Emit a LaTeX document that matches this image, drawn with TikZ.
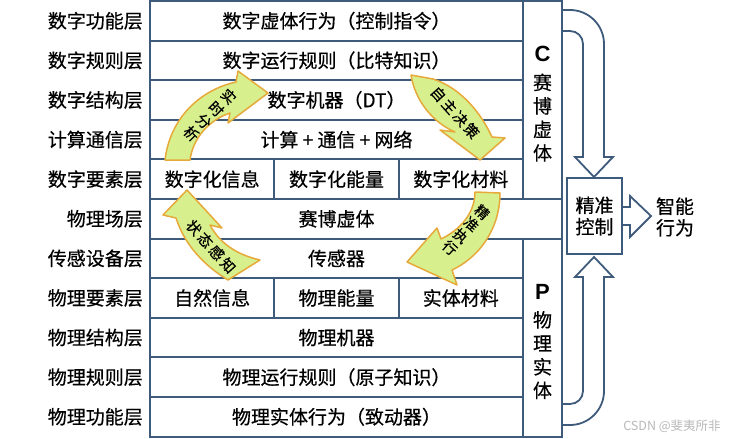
\documentclass[tikz,border=0pt]{standalone}
\usepackage{fontspec}
\setmainfont{Noto Sans CJK SC}[FakeBold=0.5]
\newfontfamily\wmfont{Noto Sans CJK SC}
\newfontfamily\latfont{Liberation Sans}
\definecolor{boxline}{HTML}{3F5B7C}
\definecolor{arrfill}{HTML}{D8EF8E}
\definecolor{arrdraw}{HTML}{E6A93A}
\begin{document}
\begin{tikzpicture}[x=1pt,y=-1pt,
  txt/.style={inner sep=0pt, font=\fontsize{19}{22}\selectfont},
  cell/.style={txt, draw=boxline, line width=2pt, minimum width=373pt, minimum height=39.6pt},
  ecell/.style={cell, minimum width=124.3pt},
  colbox/.style={draw=boxline, line width=2pt, minimum width=39pt, minimum height=198pt, inner sep=0pt},
  lab/.style={txt, anchor=east},
  coltxt/.style={txt, align=center, font=\fontsize{19}{23.5}\selectfont},
  uturn/.style={draw=boxline, line width=1.8pt, line join=miter},
  bigarrow/.style={fill=arrfill, draw=arrdraw, line width=1.5pt, line join=round},
  vtxt/.style={inner sep=0pt, align=center, font=\fontsize{14.5}{17.5}\selectfont},
  htxt/.style={inner sep=0pt, font=\fontsize{14.5}{15}\selectfont}
]
\useasboundingbox (0,0) rectangle (732,439);

% left labels
\node[lab] (l1) at (143,20.8) {数字功能层};
\node[lab] (l2) at (143,60.4) {数字规则层};
\node[lab] (l3) at (143,100.0) {数字结构层};
\node[lab] (l4) at (143,139.6) {计算通信层};
\node[lab] (l5) at (143,179.2) {数字要素层};
\node[lab] (l6) at (143,218.8) {物理场层};
\node[lab] (l7) at (143,258.4) {传感设备层};
\node[lab] (l8) at (143,298.0) {物理要素层};
\node[lab] (l9) at (143,337.6) {物理结构层};
\node[lab] (l10) at (143,377.2) {物理规则层};
\node[lab] (l11) at (143,416.8) {物理功能层};

% cells
\node[cell] (r1) at (336.5,20.8) {数字虚体行为（控制指令）};
\node[cell] (r2) at (336.5,60.4) {数字运行规则（比特知识）};
\node[cell] (r3) at (336.5,100.0) {数字机器（DT）};
\node[cell] (r4) at (336.5,139.6) {计算 + 通信 + 网络};
\node[ecell] (r5a) at (212.2,179.2) {数字化信息};
\node[ecell] (r5b) at (336.5,179.2) {数字化能量};
\node[ecell] (r5c) at (460.8,179.2) {数字化材料};
\node[cell, minimum width=412pt] (r6) at (356,218.8) {};
\node[txt] (r6t) at (336.5,218.8) {赛博虚体};
\node[cell] (r7) at (336.5,258.4) {传感器};
\node[ecell] (r8a) at (212.2,298.0) {自然信息};
\node[ecell] (r8b) at (336.5,298.0) {物理能量};
\node[ecell] (r8c) at (460.8,298.0) {实体材料};
\node[cell] (r9) at (336.5,337.6) {物理机器};
\node[cell] (r10) at (336.5,377.2) {物理运行规则（原子知识）};
\node[cell] (r11) at (336.5,416.8) {物理实体行为（致动器）};

% side columns
\node[colbox] (cC) at (542.5,100) {};
\node[colbox] (cP) at (542.5,337.6) {};
\node[coltxt] (cCt) at (542.5,104) {{\latfont\bfseries\fontsize{22}{22}\selectfont C}\\[4.5pt]赛\\博\\虚\\体};
\node[coltxt] (cPt) at (542.5,341.5) {{\latfont\bfseries\fontsize{22}{22}\selectfont P}\\[4.5pt]物\\理\\实\\体};

% control box
\node[txt, draw=boxline, line width=1.8pt, minimum width=55pt, minimum height=76pt, align=center, font=\fontsize{19}{21.5}\selectfont] (ctrl) at (594.5,216) {精准\\控制};
\node[txt, align=center, font=\fontsize{19}{21.5}\selectfont] (beh) at (675,217) {智能\\行为};

% U-turn arrows
\draw[uturn] (562,10) -- (570,10) .. controls (588.8,10) and (604,25.2) .. (604,44) -- (604,157) -- (613,157) -- (594,177) -- (575,157) -- (583,157) -- (583,44) .. controls (583,36.8) and (577.2,31) .. (570,31) -- (562,31);
\draw[uturn] (562,425) -- (570,425) .. controls (588.8,425) and (604,409.8) .. (604,391) -- (604,277) -- (613,277) -- (594,257) -- (575,277) -- (583,277) -- (583,391) .. controls (583,398.2) and (577.2,404) .. (570,404) -- (562,404);
\draw[uturn] (622,207) -- (630,207) -- (630,196) -- (651,216) -- (630,237) -- (630,225) -- (622,225);

% curved block arrows
\draw[bigarrow] (165,160) .. controls (170,118) and (200,90) .. (236,82) -- (238,71) -- (268,93) -- (228,123) -- (230,113) .. controls (209,120) and (193,138) .. (190,160) -- cycle;
\draw[bigarrow] (411,75) .. controls (415,100) and (432,122) .. (455,132) -- (440,130) -- (480,160) -- (505,138) -- (492,137) .. controls (481,113) and (461,88) .. (433,79) -- cycle;
\draw[bigarrow] (475,192) .. controls (475,213) and (460,230) .. (441,239) -- (437,228) -- (407,262) -- (457,285) -- (452,270) .. controls (478,258) and (500,230) .. (500,193) -- cycle;
\draw[bigarrow] (228,280) .. controls (205,266) and (185,246) .. (176,218) -- (163,215) -- (187,190) -- (222,228) -- (210,225) .. controls (220,244) and (238,255) .. (260,260) -- cycle;

% arrow texts
\node[vtxt, rotate=-45] (a1) at (210,115) {实\\时\\分\\析};
\node[htxt, rotate=-48] (a2) at (455,112.5) {自\hspace{2pt}主\hspace{2pt}决\hspace{2pt}策};
\node[vtxt, rotate=-42, font=\fontsize{14}{16}\selectfont] (a3) at (466,230) {精\\准\\执\\行};
\node[htxt, rotate=-48] (a4) at (211,246.5) {状\hspace{2.5pt}态\hspace{2.5pt}感\hspace{2.5pt}知};

% watermark
\node[inner sep=0pt, text=black!28, font=\wmfont\fontsize{12.5}{13}\selectfont] (wm) at (672,426) {CSDN @斐夷所非};
\end{tikzpicture}
\end{document}
